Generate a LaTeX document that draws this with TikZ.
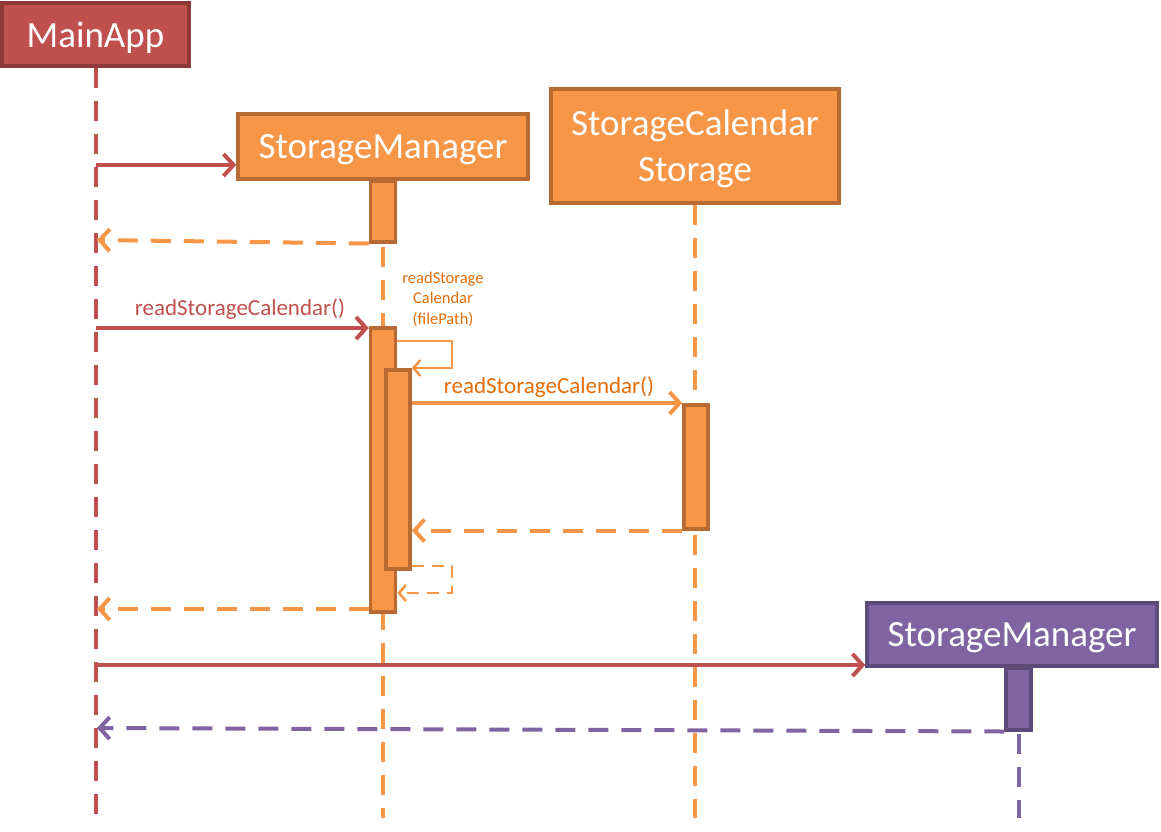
\documentclass[tikz,border=0pt]{standalone}
\usepackage{fontspec}
\setmainfont{Carlito}
\usetikzlibrary{arrows.meta}

\definecolor{redfill}{HTML}{C0504D}
\definecolor{redline}{HTML}{8C3A38}
\definecolor{orangefill}{HTML}{F79646}
\definecolor{orangeline}{HTML}{B76A31}
\definecolor{orangetext}{HTML}{E46C0A}
\definecolor{purplefill}{HTML}{8064A2}
\definecolor{purpleline}{HTML}{5E4A79}

\tikzset{
  obj/.style={draw, line width=3.5pt, inner sep=0pt, text=white, align=center,
    text depth=0pt, font=\fontsize{37}{46}\selectfont},
  act/.style={draw, line width=3.5pt, anchor=north, inner sep=0pt, minimum width=25pt},
  life/.style={line width=4pt, dash pattern=on 20pt off 13pt},
  msg/.style={line width=4pt, -{Straight Barb[length=10pt,width=22pt]}},
  ret/.style={msg, dash pattern=on 20pt off 13pt},
  selfmsg/.style={line width=2.5pt, -{Straight Barb[length=7pt,width=16pt]}},
  selfret/.style={selfmsg, dash pattern=on 12pt off 8pt},
  msglabel/.style={inner sep=0pt, font=\fontsize{23}{28}\selectfont},
  small/.style={inner sep=0pt, align=center, font=\fontsize{16.5}{20.5}\selectfont}
}

\begin{document}
\begin{tikzpicture}[x=1pt,y=-1pt]
\useasboundingbox (0,0) rectangle (1161,831);
% objects
\node[obj, fill=redfill, draw=redline, minimum width=187pt, minimum height=63pt] (main) at (95.5,34.5) {MainApp};
\node[obj, fill=orangefill, draw=orangeline, minimum width=290pt, minimum height=65pt] (sm) at (383,146.5) {StorageManager};
\node[obj, fill=orangefill, draw=orangeline, minimum width=288pt, minimum height=114pt] (scs) at (695,146) {StorageCalendar\\Storage};
\node[obj, fill=purplefill, draw=purpleline, minimum width=290pt, minimum height=63pt] (pm) at (1012,634.5) {StorageManager};
% lifelines
\coordinate (mainEnd) at (95.5,822);
\coordinate (smEnd) at (383,818);
\coordinate (scsEnd) at (695,818);
\coordinate (pmEnd) at (1018.5,818);
\path[draw,life,redfill] (main.south) -- (mainEnd);
\path[draw,life,orangefill] (sm.south) -- (smEnd);
\path[draw,life,orangefill] (scs.south) -- (scsEnd);
\path[draw,life,purplefill] (pm.south -| pmEnd) -- (pmEnd);
% activations
\node[act, fill=orangefill, draw=orangeline, minimum height=61pt] (sma1) at (383,179) {};
\node[act, fill=orangefill, draw=orangeline, minimum height=284pt] (sma2) at (383,326) {};
\node[act, fill=orangefill, draw=orangeline, minimum width=24pt, minimum height=199pt] (smb) at (398,368) {};
\node[act, fill=orangefill, draw=orangeline, minimum width=24pt, minimum height=124pt] (scsa) at (696,403) {};
\node[act, fill=purplefill, draw=purpleline, minimum height=62pt] (pma) at (1018.5,666) {};
% messages
\coordinate (m1) at (95.5,165);
\coordinate (r1) at (97,240);
\path[draw,msg,redfill] (m1) -- (sm.west |- m1);
\path[draw,ret,orangefill] (sma1.south west) -- (r1);

\coordinate (m2) at (95.5,328);
\node[msglabel, text=redfill] (l2) at (240,309) {readStorageCalendar()};
\path[draw,msg,redfill] (m2) -- (sma2.west |- m2);

\coordinate (s1) at (452,341);
\coordinate (s2) at (452,368);
\node[small, text=orangetext] (l3) at (443,299) {readStorage\\Calendar\\(filePath)};
\path[draw,selfmsg,orangefill] (sma2.east |- s1) -- (s1) -- (s2) -- (smb.north east);

\node[msglabel, text=orangetext] (l4) at (549,387) {readStorageCalendar()};
\path[draw,msg,orangefill] (smb.east |- scsa.north) -- (scsa.north west);
\path[draw,ret,orangefill] (scsa.south west) -- (smb.east |- scsa.south);

\coordinate (s3) at (452,566);
\coordinate (s4) at (452,593);
\path[draw,selfret,orangefill] (smb.south east |- s3) -- (s3) -- (s4) -- (sma2.east |- s4);

\coordinate (r2) at (97,609);
\path[draw,ret,orangefill] (sma2.west |- r2) -- (r2);

\coordinate (m4) at (95.5,665);
\coordinate (r3) at (97,728);
\path[draw,msg,redfill] (m4) -- (pm.west |- m4);
\path[draw,ret,purplefill] (pma.south west) -- (r3);
\end{tikzpicture}
\end{document}
